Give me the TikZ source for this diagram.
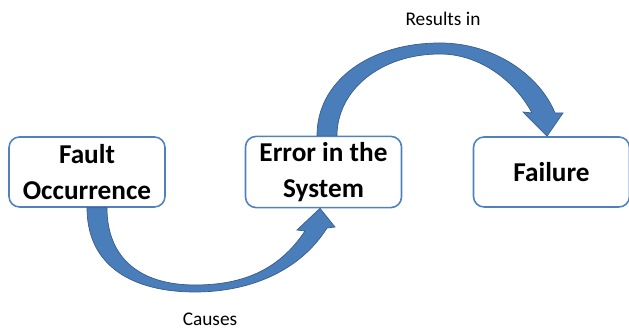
\documentclass[tikz,border=0pt]{standalone}
\usepackage{fontspec}
\setmainfont{Carlito}
\usetikzlibrary{calc}
\definecolor{boxline}{RGB}{79,129,189}
\definecolor{arrowfill}{RGB}{74,126,187}
\definecolor{arrowline}{RGB}{56,93,138}

\begin{document}
\begin{tikzpicture}[
    stagebox/.style={draw=boxline, line width=0.9pt, rounded corners=6pt,
        minimum width=3.12cm, minimum height=1.4cm, align=center,
        font=\fontsize{15.5}{20.5}\selectfont\bfseries},
    steplabel/.style={font=\fontsize{11}{13}\selectfont},
    blockarrow/.style={fill=arrowfill, draw=arrowline, line width=0.4pt}
]
    \useasboundingbox (0,0) rectangle (12.58,6.62);

    %stages
    \node[stagebox] (fault) at (1.74, 3.18) {Fault\\Occurrence};
    \node[stagebox] (error) at (6.47, 3.18) {Error in the\\System};
    \node[stagebox] (failure) at (11.03, 3.18) {Failure};

    %labels
    \node[steplabel] (causes) at (4.2, 0.24) {Causes};
    \node[steplabel] (results) at (8.86, 6.24) {Results in};

    %fault -> error
    \draw[blockarrow] (fault.south)
        .. controls ($(fault.south)+(0,-1.2)$) and (2.7,0.78) .. (3.9,0.78)
        .. controls (5.0,0.78) and (6.0,1.2) .. (6.54,2.06)
        -- (6.70,2.08) -- ([xshift=-0.07cm]error.south) -- (5.94,2.02)
        -- (6.1,2.0)
        .. controls (5.6,1.25) and (4.9,0.92) .. (3.9,0.92)
        .. controls (2.85,0.92) and ($(fault.south)+(0.4,-1.05)$) .. ([xshift=0.4cm]fault.south)
        -- cycle;

    %error -> failure
    \draw[blockarrow] ([xshift=-0.13cm]error.north)
        .. controls ($(error.north)+(-0.13,1.1)$) and (7.4,5.76) .. (8.8,5.76)
        .. controls (9.9,5.76) and (10.8,5.1) .. (11.1,4.36)
        -- (11.26,4.36) -- ([xshift=-0.09cm]failure.north) -- (10.46,4.38)
        -- (10.64,4.36)
        .. controls (10.3,5.0) and (9.6,5.54) .. (8.8,5.54)
        .. controls (7.6,5.54) and ($(error.north)+(0.27,0.9)$) .. ([xshift=0.27cm]error.north)
        -- cycle;
\end{tikzpicture}
\end{document}
